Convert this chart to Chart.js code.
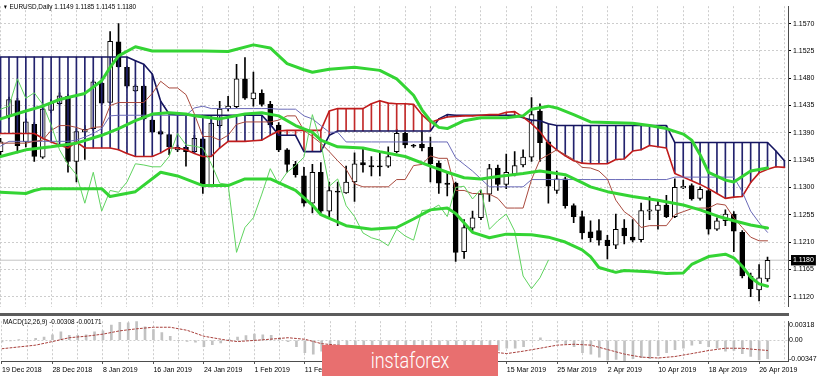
<!DOCTYPE html>
<html>
<head>
<meta charset="utf-8">
<title>EURUSD Daily</title>
<script src="https://cdn.jsdelivr.net/npm/chart.js@4.4.1/dist/chart.umd.min.js"></script>
<style>
  html, body { margin:0; padding:0; background:#fff; }
  #wrap { position:relative; width:820px; height:376px; overflow:hidden; background:#fff; }
  canvas { position:absolute; left:0; }
  #c1 { top:0; }
  #c2 { top:316px; }
  #sep { position:absolute; left:0; top:313px; width:789px; height:3px; background:#5c5c5c; }
  .lbl { position:absolute; font-family:"Liberation Sans",Arial,sans-serif; font-size:8px; color:#000; white-space:pre; line-height:9px; transform:scaleX(0.8); transform-origin:0 0; }
  #hdr { left:3px; top:2px; }
  #mlab { left:3px; top:317px; }
  #wm { position:absolute; left:322px; top:345px; width:176px; height:31px; background:#e86f6f; }
  #wm span { position:absolute; left:0; right:0; top:0; text-align:center; color:#fff; font-family:Roboto,"Open Sans",sans-serif; font-weight:300; font-size:22px; line-height:31px; transform:scaleX(0.82); }
</style>
</head>
<body>
<div id="wrap">
  <canvas id="c1" width="820" height="313"></canvas>
  <div id="sep"></div>
  <canvas id="c2" width="820" height="60"></canvas>
  <div id="hdr" class="lbl"></div>
  <div id="mlab" class="lbl"></div>
  <div id="wm"><span>instaforex</span></div>
</div>
<script>
// ---------------- DATA ----------------
const symbol = 'EURUSD';
const timeframe = 'Daily';
const xTickLabels = ['19 Dec 2018','28 Dec 2018','8 Jan 2019','16 Jan 2019','24 Jan 2019','1 Feb 2019','11 Feb 2019','19 Feb 2019','27 Feb 2019','7 Mar 2019','15 Mar 2019','25 Mar 2019','2 Apr 2019','10 Apr 2019','18 Apr 2019','26 Apr 2019'];
const labelEvery = 6;
const priceTicks = [1.1120,1.1165,1.1210,1.1255,1.1300,1.1345,1.1390,1.1435,1.1480,1.1525,1.1570];

const opens = [1.1359,1.1418,1.1443,1.1375,1.1404,1.1350,1.1427,1.1438,1.1450,1.1343,
 1.1391,1.1397,1.1472,1.1440,1.1540,1.1498,1.1459,1.1467,1.1411,1.1392,
 1.1387,1.1362,1.1366,1.1359,1.1380,1.1303,1.1402,1.1430,1.1433,1.1479,
 1.1446,1.1455,1.1437,1.1403,1.1362,1.1338,1.1319,1.1274,1.1325,1.1261,
 1.1294,1.1291,1.1309,1.1341,1.1336,1.1335,1.1335,1.1359,1.1389,1.1369,
 1.1371,1.1366,1.1340,1.1307,1.1307,1.1194,1.1233,1.1250,1.1289,1.1332,
 1.1305,1.1322,1.1337,1.1350,1.1426,1.1375,1.1295,1.1314,1.1270,1.1252,
 1.1227,1.1229,1.1213,1.1205,1.1233,1.1218,1.1214,1.1261,1.1262,1.1271,
 1.1252,1.1299,1.1303,1.1282,1.1295,1.1231,1.1245,1.1256,1.1226,1.1154,
 1.1131,1.1149];
const highs = [1.1381,1.1449,1.1447,1.1413,1.1407,1.1437,1.1445,1.1456,1.1453,1.1397,
 1.1402,1.1477,1.1482,1.1557,1.1570,1.1500,1.1469,1.1469,1.1412,1.1394,
 1.1388,1.1370,1.1370,1.1386,1.1383,1.1418,1.1442,1.1450,1.1503,1.1514,
 1.1490,1.1461,1.1442,1.1407,1.1364,1.1343,1.1333,1.1338,1.1341,1.1309,
 1.1309,1.1335,1.1357,1.1365,1.1351,1.1357,1.1367,1.1396,1.1391,1.1371,
 1.1392,1.1383,1.1344,1.1325,1.1309,1.1247,1.1261,1.1295,1.1338,1.1337,
 1.1355,1.1359,1.1362,1.1448,1.1438,1.1378,1.1327,1.1317,1.1273,1.1261,
 1.1245,1.1247,1.1221,1.1256,1.1247,1.1247,1.1274,1.1285,1.1279,1.1287,
 1.1314,1.1312,1.1306,1.1301,1.1298,1.1250,1.1263,1.1260,1.1229,1.1159,
 1.1173,1.1185];
const lows = [1.1351,1.1413,1.1357,1.1367,1.1343,1.1348,1.1423,1.1436,1.1325,1.1309,
 1.1346,1.1394,1.1437,1.1439,1.1498,1.1464,1.1458,1.1411,1.1390,1.1387,
 1.1354,1.1359,1.1335,1.1357,1.1290,1.1301,1.1399,1.1426,1.1431,1.1445,
 1.1434,1.1434,1.1399,1.1359,1.1325,1.1317,1.1269,1.1258,1.1258,1.1250,
 1.1237,1.1290,1.1277,1.1325,1.1319,1.1319,1.1333,1.1357,1.1365,1.1366,
 1.1360,1.1309,1.1290,1.1286,1.1178,1.1183,1.1229,1.1247,1.1277,1.1295,
 1.1298,1.1319,1.1334,1.1343,1.1343,1.1274,1.1290,1.1266,1.1242,1.1215,
 1.1210,1.1205,1.1182,1.1199,1.1207,1.1210,1.1210,1.1247,1.1231,1.1250,
 1.1250,1.1298,1.1279,1.1279,1.1223,1.1229,1.1237,1.1194,1.1151,1.1120,
 1.1113,1.1145];
const closes = [1.1375,1.1445,1.1369,1.1408,1.1351,1.1429,1.1439,1.1451,1.1343,1.1392,
 1.1396,1.1474,1.1439,1.1541,1.1499,1.1467,1.1467,1.1413,1.1391,1.1388,
 1.1367,1.1366,1.1359,1.1381,1.1303,1.1406,1.1429,1.1434,1.1479,1.1447,
 1.1456,1.1437,1.1403,1.1362,1.1338,1.1321,1.1274,1.1325,1.1261,1.1295,
 1.1292,1.1309,1.1339,1.1337,1.1334,1.1334,1.1351,1.1389,1.1370,1.1368,
 1.1365,1.1339,1.1307,1.1305,1.1193,1.1234,1.1250,1.1289,1.1331,1.1305,
 1.1325,1.1336,1.1350,1.1420,1.1374,1.1302,1.1314,1.1270,1.1252,1.1225,
 1.1217,1.1213,1.1204,1.1231,1.1220,1.1213,1.1262,1.1263,1.1271,1.1252,
 1.1300,1.1302,1.1281,1.1297,1.1231,1.1245,1.1256,1.1228,1.1154,1.1133,
 1.1151,1.1180];

// Ichimoku (9,26,52)
const tenkan = [1.1373,1.1373,1.1373,1.1373,1.1376,1.1378,1.1394,1.1402,1.1402,1.1399,
 1.1394,1.1399,1.1400,1.1435,1.1440,1.1440,1.1440,1.1440,1.1455,1.1475,
 1.1464,1.1464,1.1453,1.1421,1.1384,1.1384,1.1378,1.1386,1.1404,1.1408,
 1.1408,1.1408,1.1408,1.1411,1.1418,1.1418,1.1394,1.1384,1.1373,1.1359,
 1.1344,1.1330,1.1306,1.1301,1.1301,1.1301,1.1301,1.1313,1.1313,1.1336,
 1.1338,1.1352,1.1348,1.1348,1.1295,1.1295,1.1290,1.1290,1.1289,1.1282,
 1.1266,1.1266,1.1266,1.1313,1.1346,1.1354,1.1362,1.1354,1.1346,1.1333,
 1.1332,1.1327,1.1314,1.1279,1.1260,1.1250,1.1234,1.1237,1.1237,1.1237,
 1.1255,1.1260,1.1265,1.1266,1.1266,1.1273,1.1271,1.1250,1.1234,1.1218,
 1.1212,1.1212];
const kijun = [1.1368,1.1376,1.1376,1.1376,1.1376,1.1376,1.1376,1.1376,1.1376,1.1378,
 1.1383,1.1389,1.1397,1.1418,1.1419,1.1419,1.1419,1.1419,1.1419,1.1419,
 1.1419,1.1419,1.1419,1.1431,1.1434,1.1430,1.1430,1.1430,1.1430,1.1430,
 1.1430,1.1430,1.1430,1.1429,1.1429,1.1429,1.1418,1.1413,1.1402,1.1391,
 1.1391,1.1375,1.1375,1.1375,1.1375,1.1375,1.1375,1.1375,1.1375,1.1375,
 1.1375,1.1375,1.1375,1.1375,1.1349,1.1338,1.1327,1.1314,1.1301,1.1301,
 1.1301,1.1301,1.1301,1.1313,1.1313,1.1313,1.1313,1.1313,1.1313,1.1313,
 1.1313,1.1313,1.1313,1.1313,1.1313,1.1313,1.1313,1.1313,1.1313,1.1313,
 1.1317,1.1317,1.1317,1.1317,1.1317,1.1317,1.1317,1.1317,1.1293,1.1261,
 1.1242,1.1226];
const chikou = [1.1429,1.1434,1.1479,1.1447,1.1456,1.1437,1.1403,1.1362,1.1338,1.1321,
 1.1274,1.1325,1.1261,1.1295,1.1292,1.1309,1.1339,1.1337,1.1334,1.1334,
 1.1351,1.1389,1.1370,1.1368,1.1365,1.1339,1.1307,1.1305,1.1193,1.1234,
 1.1250,1.1289,1.1331,1.1305,1.1325,1.1336,1.1350,1.1420,1.1374,1.1302,
 1.1314,1.1270,1.1252,1.1225,1.1217,1.1213,1.1204,1.1231,1.1220,1.1213,
 1.1262,1.1263,1.1271,1.1252,1.1300,1.1302,1.1281,1.1297,1.1231,1.1245,
 1.1256,1.1228,1.1154,1.1133,1.1151,1.1180];
const spanA = [1.1389,1.1389,1.1389,1.1389,1.1389,1.1381,1.1375,1.1370,1.1365,1.1375,
 1.1365,1.1365,1.1365,1.1365,1.1362,1.1356,1.1351,1.1351,1.1351,1.1357,
 1.1365,1.1365,1.1362,1.1356,1.1351,1.1351,1.1365,1.1376,1.1376,1.1376,
 1.1377,1.1378,1.1386,1.1393,1.1394,1.1394,1.1394,1.1394,1.1394,1.1426,
 1.1430,1.1430,1.1430,1.1430,1.1438,1.1443,1.1439,1.1438,1.1438,1.1437,
 1.1420,1.1407,1.1412,1.1416,1.1417,1.1418,1.1418,1.1419,1.1420,1.1420,
 1.1424,1.1425,1.1416,1.1405,1.1392,1.1373,1.1362,1.1352,1.1344,1.1340,
 1.1339,1.1339,1.1339,1.1346,1.1347,1.1360,1.1362,1.1369,1.1367,1.1365,
 1.1323,1.1317,1.1311,1.1305,1.1298,1.1290,1.1282,1.1284,1.1285,1.1308,
 1.1324,1.1330,1.1334,1.1333];
const spanB = [1.1515,1.1515,1.1515,1.1515,1.1515,1.1515,1.1515,1.1515,1.1515,1.1515,
 1.1515,1.1515,1.1515,1.1515,1.1515,1.1515,1.1509,1.1503,1.1487,1.1442,
 1.1421,1.1419,1.1419,1.1419,1.1419,1.1419,1.1419,1.1419,1.1419,1.1419,
 1.1419,1.1419,1.1404,1.1386,1.1386,1.1386,1.1359,1.1359,1.1359,1.1386,
 1.1393,1.1393,1.1393,1.1393,1.1393,1.1393,1.1393,1.1393,1.1393,1.1393,
 1.1393,1.1393,1.1413,1.1420,1.1419,1.1419,1.1419,1.1419,1.1419,1.1419,
 1.1419,1.1419,1.1415,1.1411,1.1410,1.1405,1.1402,1.1402,1.1402,1.1402,
 1.1402,1.1402,1.1402,1.1402,1.1402,1.1402,1.1402,1.1402,1.1402,1.1402,
 1.1374,1.1374,1.1374,1.1374,1.1374,1.1374,1.1374,1.1374,1.1374,1.1374,
 1.1374,1.1374,1.1360,1.1344];

// Bollinger Bands (20) - readings [bar, price]
const bbUpper = [[0,1.1413],[3,1.1426],[5,1.1434],[7,1.1445],[10,1.1455],[12,1.1476],[13,1.1498],[14,1.1517],[16,1.1532],[18,1.1525],[24,1.1525],[27,1.1524],[30,1.1535],[32,1.1530],[34,1.1504],[36,1.1494],[37,1.1490],[39,1.1495],[42,1.1498],[45,1.1493],[47,1.1479],[49,1.1452],[50,1.1428],[51,1.1410],[52,1.1399],[53,1.1397],[55,1.1410],[57,1.1415],[60,1.1415],[62,1.1418],[63,1.1429],[65,1.1434],[66,1.1431],[68,1.1420],[70,1.1408],[72,1.1407],[75,1.1406],[77,1.1402],[79,1.1397],[81,1.1388],[82,1.1378],[83,1.1354],[84,1.1325],[86,1.1312],[87,1.1309],[88,1.1318],[89,1.1327],[91,1.1332]];
const bbMiddle = [[0,1.1351],[3,1.1362],[6,1.1367],[9,1.1373],[12,1.1386],[14,1.1397],[16,1.1410],[18,1.1421],[20,1.1423],[22,1.1421],[23,1.1418],[26,1.1413],[29,1.1421],[31,1.1423],[33,1.1418],[35,1.1402],[37,1.1391],[38,1.1378],[40,1.1367],[43,1.1365],[45,1.1359],[48,1.1351],[51,1.1335],[53,1.1325],[55,1.1316],[57,1.1314],[59,1.1318],[62,1.1323],[64,1.1327],[67,1.1321],[69,1.1308],[70,1.1301],[72,1.1293],[75,1.1285],[78,1.1279],[81,1.1271],[83,1.1263],[85,1.1253],[87,1.1245],[89,1.1238],[91,1.1233]];
const bbLower = [[0,1.1292],[3,1.1290],[4,1.1295],[5,1.1298],[12,1.1298],[13,1.1285],[16,1.1293],[19,1.1325],[21,1.1319],[24,1.1303],[27,1.1303],[29,1.1314],[32,1.1314],[35,1.1295],[37,1.1271],[38,1.1255],[41,1.1237],[44,1.1231],[47,1.1234],[49,1.1248],[51,1.1263],[53,1.1266],[54,1.1257],[56,1.1226],[58,1.1217],[60,1.1223],[63,1.1222],[65,1.1218],[67,1.1210],[69,1.1197],[70,1.1186],[71,1.1168],[73,1.1160],[74,1.1163],[77,1.1161],[79,1.1158],[81,1.1159],[82,1.1173],[84,1.1186],[86,1.1190],[87,1.1184],[88,1.1170],[89,1.1152],[90,1.1141],[91,1.1137]];

// MACD (12,26,9)
const macdMain = [-0.0003,-0.0001,0.0001,0.0000,0.0003,0.00052,0.00091,0.00142,0.00082,0.00082,
 0.00091,0.00142,0.00157,0.00255,0.00300,0.00290,0.00318,0.00226,0.00176,0.00127,
 0.00067,-0.00007,-0.00018,-0.00033,-0.00108,-0.00073,-0.00043,0.00016,0.00052,0.00076,
 0.00102,0.00091,0.00082,0.00042,-0.00022,-0.00108,-0.00208,-0.00232,-0.00182,-0.0016,
 -0.0015,-0.0014,-0.0013,-0.0012,-0.0012,-0.0012,-0.0011,-0.0010,-0.0011,-0.0012,
 -0.0013,-0.0015,-0.0018,-0.0020,-0.0028,-0.0030,-0.0029,-0.0026,-0.0021,-0.0017,
 -0.00133,-0.00133,-0.00108,0.0000,0.00042,0.0000,-0.00033,-0.00058,-0.00108,-0.00208,
 -0.00232,-0.00282,-0.00335,-0.00321,-0.00347,-0.00306,-0.00291,-0.00306,-0.00257,-0.00208,
 -0.00157,-0.00133,-0.00082,-0.00058,-0.00108,-0.00133,-0.00182,-0.00172,-0.00223,-0.00272,
 -0.00330,-0.00308];
const macdSignal = [[0,-0.00142],[4,-0.00082],[6,-0.00022],[8,0.00042],[10,0.00067],[12,0.00102],[14,0.00157],[16,0.00191],[18,0.00217],[20,0.00217],[22,0.00166],[24,0.00067],[27,-0.00007],[28,-0.00022],[31,0.00007],[34,0.00042],[36,0.00016],[38,-0.00058],[42,-0.0011],[46,-0.0013],[50,-0.0013],[54,-0.0017],[59,-0.00208],[60,-0.00223],[62,-0.00182],[64,-0.00133],[66,-0.00082],[68,-0.00067],[70,-0.00082],[72,-0.00157],[74,-0.00232],[76,-0.00282],[78,-0.00297],[80,-0.00272],[82,-0.00223],[84,-0.00172],[86,-0.00133],[88,-0.00135],[90,-0.00160],[91,-0.00171]];

// ---------------- RENDER ----------------
const FONT = '"Liberation Sans",Arial,sans-serif';
Chart.defaults.font.family = FONT;
Chart.defaults.font.size = 7;
Chart.defaults.color = '#000';

const nBars = closes.length;
const last = nBars - 1;
const lastClose = closes[last];
const X_MIN = -0.066, X_MAX = 93.43;       // visible bar range
const Y_MIN = 1.11032, Y_MAX = 1.15988;    // visible price range
const gridIdx = [];
for (let k = 0; k <= Math.floor(X_MAX); k += 3) gridIdx.push(k);

const pts = arr => arr.map((v, i) => ({ x: i, y: v }));
const pairPts = arr => arr.map(p => ({ x: p[0], y: p[1] }));
const lineDs = (data, color, width, order, dash) => ({
  type: 'line', data, borderColor: color, borderWidth: width, pointRadius: 0,
  tension: 0, fill: false, order, borderDash: dash || [], borderCapStyle: 'round', borderJoinStyle: 'round'
});

document.getElementById('hdr').innerHTML =
  '<span style="font-size:6px">&#9660;</span> ' + symbol + ',' + timeframe + ' ' +
  [opens[last], highs[last], lows[last], closes[last]].map(v => v.toFixed(4)).join(' ');

new Chart(document.getElementById('c1'), {
  type: 'bar',
  data: { datasets: [
    lineDs([{ x: X_MIN, y: lastClose }, { x: X_MAX, y: lastClose }], '#c4c4c4', 1, 100),
    { type: 'bar', data: highs.map((h, i) => ({ x: i, y: [lows[i], h] })), backgroundColor: '#000',
      barThickness: 1, grouped: false, order: 95 },
    { type: 'bar', data: opens.map((o, i) => ({ x: i, y: [o, closes[i]] })),
      backgroundColor: c => closes[c.dataIndex] >= opens[c.dataIndex] ? '#ffffff' : '#000000',
      borderColor: '#000', borderWidth: 1, borderSkipped: false, barThickness: 5, minBarLength: 1,
      grouped: false, order: 90 },
    { type: 'bar', data: spanA.map((a, i) => ({ x: i, y: [a, spanB[i]] })),
      backgroundColor: c => spanB[c.dataIndex] >= spanA[c.dataIndex] ? '#23236e' : '#c22a2a',
      barThickness: 1, grouped: false, order: 80 },
    lineDs(pts(spanA), '#c01c1c', 1.6, 70),
    lineDs(pts(spanB), '#15155f', 1.6, 70),
    lineDs(pts(kijun), '#6a6ab8', 1, 60),
    lineDs(pts(tenkan), '#a94a3e', 1, 55),
    lineDs(pts(chikou), '#5fd35f', 1, 50),
    lineDs(pairPts(bbUpper), '#34d434', 3, 10),
    lineDs(pairPts(bbMiddle), '#34d434', 3, 10),
    lineDs(pairPts(bbLower), '#34d434', 3, 10)
  ]},
  options: {
    responsive: false, animation: false, events: [],
    layout: { padding: { top: 2, bottom: 1, left: 0, right: 0 } },
    plugins: { legend: { display: false }, tooltip: { enabled: false } },
    scales: {
      x: { type: 'linear', min: X_MIN, max: X_MAX, offset: false,
        afterBuildTicks: s => { s.ticks = gridIdx.map(v => ({ value: v })); },
        afterFit: s => { s.height = 0; },
        ticks: { display: false },
        grid: { color: '#cdcdcd', drawTicks: false, offset: false },
        border: { display: false, dash: [2, 2] } },
      y: { position: 'right', min: Y_MIN, max: Y_MAX,
        afterBuildTicks: s => { s.ticks = priceTicks.concat([lastClose]).map(v => ({ value: v })); },
        afterFit: s => { s.width = 32; },
        ticks: { autoSkip: false, padding: 2, callback: v => Number(v).toFixed(4),
          color: c => (c.tick && c.tick.value === lastClose) ? '#fff' : '#000',
          showLabelBackdrop: c => !!(c.tick && c.tick.value === lastClose),
          backdropColor: '#000', backdropPadding: { x: 2, y: 1 } },
        grid: { color: c => (c.tick && c.tick.value === lastClose) ? 'rgba(0,0,0,0)' : '#cdcdcd',
          tickColor: '#000', tickLength: 3, drawTicks: true },
        border: { display: true, color: '#4d4d4d', width: 1, dash: [2, 2] } }
    }
  }
});

// MACD panel
const macdMax = Math.max(...macdMain, ...macdSignal.map(p => p[1]));
const macdMin = Math.min(...macdMain, ...macdSignal.map(p => p[1]));
const macdTickText = [macdMin.toFixed(5), '0.00', macdMax.toFixed(5)];
document.getElementById('mlab').textContent =
  'MACD(12,26,9) ' + macdMain[last].toFixed(5) + ' ' + macdSignal[macdSignal.length - 1][1].toFixed(5);

new Chart(document.getElementById('c2'), {
  type: 'bar',
  data: { datasets: [
    { type: 'bar', data: pts(macdMain), backgroundColor: '#c2c2c2', barThickness: 2, grouped: false, order: 20 },
    lineDs(pairPts(macdSignal), '#a8403c', 1, 10, [2, 2])
  ]},
  options: {
    responsive: false, animation: false, events: [],
    layout: { padding: { top: 1, bottom: 0, left: 0, right: 0 } },
    plugins: { legend: { display: false }, tooltip: { enabled: false } },
    scales: {
      x: { type: 'linear', min: X_MIN, max: X_MAX, offset: false,
        afterBuildTicks: s => { s.ticks = gridIdx.map(v => ({ value: v })); },
        afterFit: s => { s.height = 15; },
        ticks: { autoSkip: false, maxRotation: 0, minRotation: 0, align: 'start', padding: 2,
          callback: v => (v % labelEvery === 0 && xTickLabels[v / labelEvery]) ? xTickLabels[v / labelEvery] : '' },
        grid: { color: '#cdcdcd', drawTicks: true, tickLength: 3, offset: false,
          tickColor: c => (c.tick && c.tick.value % labelEvery === 0) ? '#555' : 'rgba(0,0,0,0)' },
        border: { display: true, color: '#4d4d4d', width: 1, dash: [2, 2] } },
      y: { position: 'right', min: macdMin, max: macdMax,
        afterBuildTicks: s => {
          const r = macdMax - macdMin;
          s.ticks = [{ value: macdMin + r * 0.06 }, { value: 0 }, { value: macdMax - r * 0.085 }];
        },
        afterFit: s => { s.width = 32; },
        ticks: { autoSkip: false, padding: 1, callback: (v, i) => macdTickText[i] },
        grid: { color: c => (c.tick && c.tick.value === 0) ? '#cdcdcd' : 'rgba(0,0,0,0)', drawTicks: false },
        border: { display: true, color: '#4d4d4d', width: 1, dash: [2, 2] } }
    }
  }
});
</script>
</body>
</html>
